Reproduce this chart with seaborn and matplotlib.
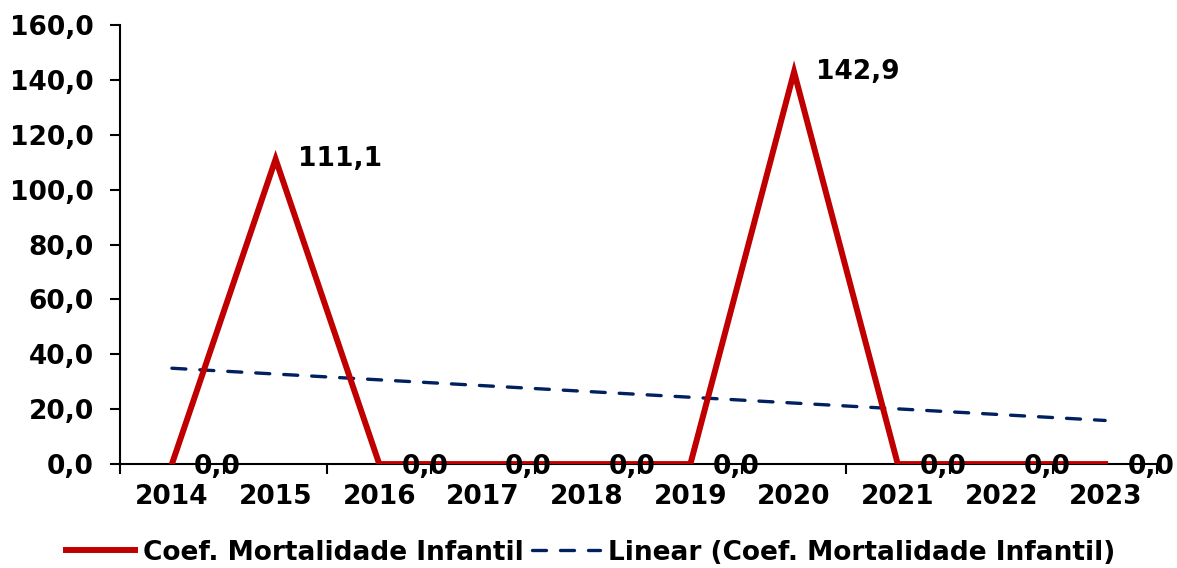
import os
import numpy as np
import pandas as pd
import matplotlib
matplotlib.use("Agg")
import matplotlib.pyplot as plt
import seaborn as sns
from matplotlib import font_manager as fm

years = ["2014", "2015", "2016", "2017", "2018", "2019", "2020", "2021", "2022", "2023"]
coef = [0.0, 111.1, 0.0, 0.0, 0.0, 0.0, 142.9, 0.0, 0.0, 0.0]
series_name = "Coef. Mortalidade Infantil"
trend_name = "Linear (Coef. Mortalidade Infantil)"
yticks = [0, 20, 40, 60, 80, 100, 120, 140, 160]

FS = 19
bold_path = os.path.join(matplotlib.get_data_path(), "fonts", "ttf", "DejaVuSans-Bold.ttf")
if os.path.exists(bold_path):
    FP = fm.FontProperties(fname=bold_path, size=FS)
else:
    FP = fm.FontProperties(family="DejaVu Sans", weight="bold", size=FS)

plt.rcParams["font.family"] = ["DejaVu Sans"]
for k in ["text.color", "axes.labelcolor", "xtick.color", "ytick.color", "axes.edgecolor"]:
    plt.rcParams[k] = "black"

RED = "#C00000"
NAVY = "#002060"

fig = plt.figure(figsize=(11.77, 5.68), dpi=100)
ax = fig.add_axes([0.102, 0.183, 0.881, 0.773])

idx = np.arange(len(years))
df = pd.DataFrame({"x": idx, "y": coef})
slope, inter = np.polyfit(idx, coef, 1)
df["trend"] = inter + slope * idx

sns.lineplot(data=df, x="x", y="y", ax=ax, color=RED, linewidth=4.3,
             label=series_name, zorder=3, solid_joinstyle="miter")
sns.lineplot(data=df, x="x", y="trend", ax=ax, color=NAVY, linewidth=2.4,
             dashes=False, label=trend_name, zorder=2)
ax.lines[1].set_linestyle((0, (4.2, 4.2)))
ax.lines[1].set_dash_capstyle("round")

ax.set_xlim(-0.5, len(years) - 0.5)
ax.set_ylim(0, 160)
ax.set_yticks(yticks)
ax.set_yticklabels([f"{v:.1f}".replace(".", ",") for v in yticks], fontproperties=FP)

ax.set_xticks(np.arange(len(years) + 1) - 0.5)
ax.set_xticklabels([])
ax.set_xticks(idx, minor=True)
ax.set_xticklabels(years, minor=True, fontproperties=FP)
ax.tick_params(axis="x", which="major", direction="out", length=7, width=1.5, color="black")
ax.tick_params(axis="x", which="minor", length=0, pad=14)
ax.tick_params(axis="y", direction="out", length=7, width=1.5, color="black", pad=12)
ax.set_xlabel("")
ax.set_ylabel("")
ax.grid(False)
ax.set_facecolor("white")

for s in ["top", "right"]:
    ax.spines[s].set_visible(False)
for s in ["left", "bottom"]:
    ax.spines[s].set_color("black")
    ax.spines[s].set_linewidth(1.5)

for i, v in zip(idx, coef):
    lab = f"{v:.1f}".replace(".", ",")
    ax.annotate(lab, (i, v), xytext=(16, -2 if v == 0 else 0),
                textcoords="offset points", ha="left", va="center",
                fontproperties=FP, color="black", zorder=5,
                annotation_clip=False)

handles, labels = ax.get_legend_handles_labels()
ax.get_legend().remove()
leg = fig.legend(handles, labels, loc="center", bbox_to_anchor=(0.502, 0.027), ncol=2,
                 frameon=False, prop=FP, handlelength=2.6,
                 columnspacing=0.3, handletextpad=0.3, borderaxespad=0)
for t in leg.get_texts():
    t.set_color("black")

fig.savefig("out.png", dpi=100, facecolor="white")
